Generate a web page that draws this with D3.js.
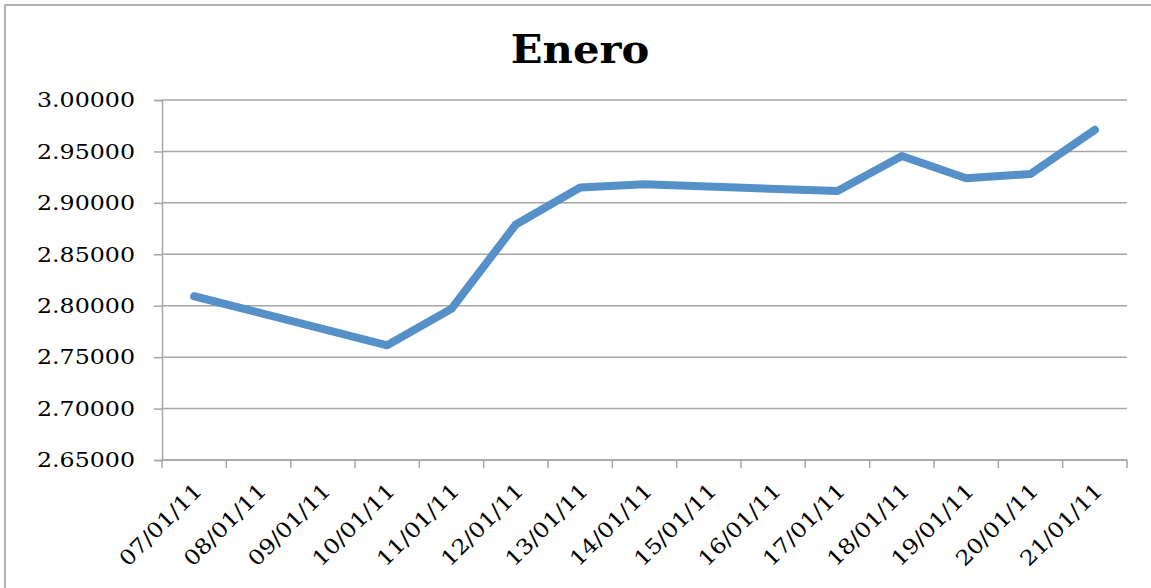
<!DOCTYPE html>
<html lang="es">
<head>
<meta charset="UTF-8" />
<title>Enero</title>
<script src="https://cdn.jsdelivr.net/npm/d3@7"></script>
<style>
  body { margin: 0; background: #fff; }
  svg text { font-family: "DejaVu Serif", serif; fill: #000; }
</style>
</head>
<body>
<svg id="chart" width="1151" height="588"></svg>
<script>
  // categories on the date axis (weekends included, no data on them)
  const categories = ["07/01/11", "08/01/11", "09/01/11", "10/01/11", "11/01/11",
    "12/01/11", "13/01/11", "14/01/11", "15/01/11", "16/01/11", "17/01/11",
    "18/01/11", "19/01/11", "20/01/11", "21/01/11"];

  // days that have a value
  const days = ["07/01/11", "10/01/11", "11/01/11", "12/01/11", "13/01/11",
    "14/01/11", "17/01/11", "18/01/11", "19/01/11", "20/01/11", "21/01/11"];
  const values = [2.8092, 2.7615, 2.7970, 2.8790, 2.9150, 2.9180,
    2.9115, 2.9455, 2.9240, 2.9280, 2.9710];

  const yTicks = [2.65, 2.70, 2.75, 2.80, 2.85, 2.90, 2.95, 3.00];

  const W = 1151, H = 588;
  const margin = { top: 100, right: 24, bottom: 128, left: 162 };
  const stretch = 1.13; // the original text is a bit wide

  const svg = d3.select("#chart");

  // chart frame
  svg.append("rect")
    .attr("x", 5).attr("y", 5)
    .attr("width", W + 10).attr("height", H + 10)
    .attr("fill", "none")
    .attr("stroke", "#b3b3b3")
    .attr("stroke-width", 2);

  const x = d3.scaleBand()
    .domain(categories)
    .range([margin.left, W - margin.right]);

  const y = d3.scaleLinear()
    .domain([2.65, 3.00])
    .range([H - margin.bottom, margin.top]);

  // gridlines
  svg.append("g")
    .selectAll("line")
    .data(yTicks)
    .join("line")
    .attr("x1", margin.left).attr("x2", W - margin.right)
    .attr("y1", d => y(d)).attr("y2", d => y(d))
    .attr("stroke", "#a6a6a6")
    .attr("stroke-width", 1.5);

  // y axis
  const yAxis = svg.append("g")
    .attr("transform", `translate(${margin.left},0)`)
    .call(d3.axisLeft(y).tickValues(yTicks).tickSize(8).tickFormat(""));
  yAxis.select(".domain").attr("stroke", "#a6a6a6").attr("stroke-width", 1.5);
  yAxis.selectAll(".tick line").attr("stroke", "#a6a6a6").attr("stroke-width", 1.5);

  svg.append("g")
    .selectAll("text")
    .data(yTicks)
    .join("text")
    .attr("transform", d => `translate(${margin.left - 27},${y(d)}) scale(${stretch},1)`)
    .attr("text-anchor", "end")
    .attr("dy", "0.35em")
    .style("font-size", "21px")
    .text(d3.format(".5f"));

  // x axis: ticks on band boundaries
  const xAxis = svg.append("g")
    .attr("transform", `translate(0,${H - margin.bottom})`);
  xAxis.append("line")
    .attr("x1", margin.left).attr("x2", W - margin.right)
    .attr("stroke", "#a6a6a6").attr("stroke-width", 1.5);
  const bounds = categories.map(c => x(c)).concat([x(categories[categories.length - 1]) + x.bandwidth()]);
  xAxis.selectAll("line.tk")
    .data(bounds)
    .join("line")
    .attr("class", "tk")
    .attr("x1", d => d).attr("x2", d => d)
    .attr("y1", 0).attr("y2", 8)
    .attr("stroke", "#a6a6a6").attr("stroke-width", 1.5);
  xAxis.selectAll("text")
    .data(categories)
    .join("text")
    .attr("transform", d => `translate(${x(d) + x.bandwidth() / 2 + 4},${27}) rotate(-45) scale(${stretch},1)`)
    .attr("text-anchor", "end")
    .attr("dy", "0.35em")
    .style("font-size", "21px")
    .text(d => d);

  // line
  const pts = days.map((d, i) => [x(d) + x.bandwidth() / 2, y(values[i])]);
  svg.append("path")
    .datum(pts)
    .attr("d", d3.line())
    .attr("fill", "none")
    .attr("stroke", "#5591c8")
    .attr("stroke-width", 8)
    .attr("stroke-linejoin", "round")
    .attr("stroke-linecap", "round");

  // title
  svg.append("text")
    .attr("transform", `translate(580,63) scale(1.07,1)`)
    .attr("text-anchor", "middle")
    .style("font-size", "39px")
    .style("font-weight", "bold")
    .text("Enero");
</script>
</body>
</html>
